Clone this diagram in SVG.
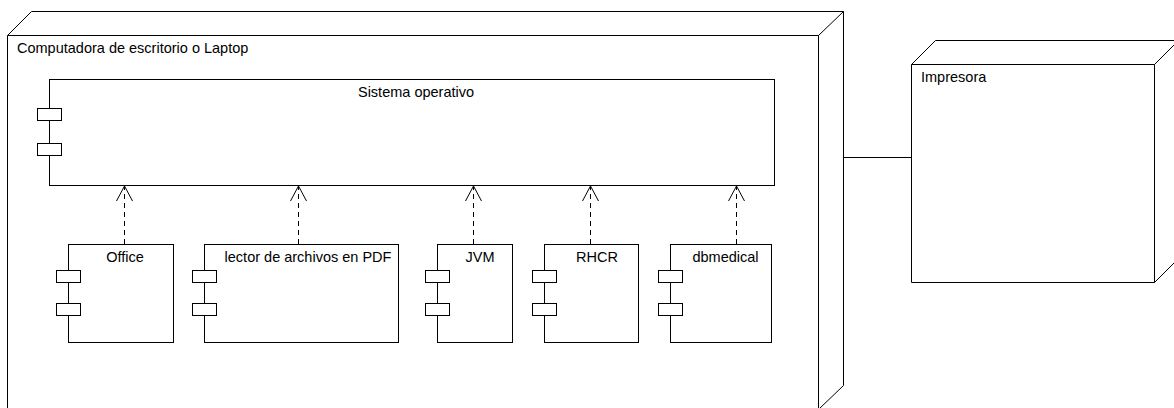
<svg xmlns="http://www.w3.org/2000/svg" width="1174" height="408" viewBox="0 0 1174 408">
<style>
.ln{fill:#fff;stroke:#000;stroke-width:1;}
.face{fill:none;stroke:#000;stroke-width:1;}
.tab{fill:#fff;stroke:#000;stroke-width:1;}
.t{font-family:"Liberation Sans",Arial,sans-serif;font-size:14.5px;fill:#000;}
.c{text-anchor:middle;}
.dep{fill:none;stroke:#000;stroke-width:1;stroke-dasharray:5,4;}
.head{fill:none;stroke:#000;stroke-width:1;}
</style>
<rect width="1174" height="408" fill="#fff"/>
<g id="computadora">
<path class="ln" d="M7.5,35.5 L31.5,11.5 L843.5,11.5 L843.5,385.5 L818.5,409.5 L7.5,409.5 Z"/>
<path class="face" d="M7.5,35.5 L818.5,35.5 L843.5,11.5 M818.5,35.5 L818.5,409.5"/>
<text class="t" x="17" y="53">Computadora de escritorio o Laptop</text>
</g>
<g id="impresora">
<path class="ln" d="M911.5,64.5 L935.5,40.5 L1178.5,40.5 L1178.5,258.5 L1154.5,282.5 L911.5,282.5 Z"/>
<path class="face" d="M911.5,64.5 L1154.5,64.5 L1178.5,40.5 M1154.5,64.5 L1154.5,282.5"/>
<text class="t" x="921" y="82">Impresora</text>
</g>
<g id="sistema-operativo">
<rect class="ln" x="49.5" y="79.5" width="725" height="106"/>
<rect class="tab" x="37.5" y="108.5" width="24" height="12"/>
<rect class="tab" x="37.5" y="143.5" width="24" height="12"/>
<text class="t c" x="416" y="97">Sistema operativo</text>
</g>
<g id="office">
<rect class="ln" x="68.5" y="244.5" width="105" height="98"/>
<rect class="tab" x="56.5" y="270.5" width="24" height="12"/>
<rect class="tab" x="56.5" y="303.5" width="24" height="12"/>
<text class="t c" x="125" y="262">Office</text>
</g>
<g id="lector-pdf">
<rect class="ln" x="204.5" y="244.5" width="194" height="98"/>
<rect class="tab" x="192.5" y="270.5" width="24" height="12"/>
<rect class="tab" x="192.5" y="303.5" width="24" height="12"/>
<text class="t c" x="308" y="262">lector de archivos en PDF</text>
</g>
<g id="jvm">
<rect class="ln" x="437.5" y="244.5" width="75" height="98"/>
<rect class="tab" x="425.5" y="270.5" width="24" height="12"/>
<rect class="tab" x="425.5" y="303.5" width="24" height="12"/>
<text class="t c" x="480" y="262">JVM</text>
</g>
<g id="rhcr">
<rect class="ln" x="544.5" y="244.5" width="94" height="98"/>
<rect class="tab" x="532.5" y="270.5" width="24" height="12"/>
<rect class="tab" x="532.5" y="303.5" width="24" height="12"/>
<text class="t c" x="597" y="262">RHCR</text>
</g>
<g id="dbmedical">
<rect class="ln" x="670.5" y="244.5" width="101" height="98"/>
<rect class="tab" x="658.5" y="270.5" width="24" height="12"/>
<rect class="tab" x="658.5" y="303.5" width="24" height="12"/>
<text class="t c" x="725.5" y="262">dbmedical</text>
</g>
<g id="connectors">
<line class="face" x1="843.5" y1="157.5" x2="911.5" y2="157.5"/>
<line class="dep" x1="124.5" y1="244" x2="124.5" y2="187"/>
<path class="head" d="M116.5,201 L124.5,186 L132.5,201"/>
<line class="dep" x1="298.5" y1="244" x2="298.5" y2="187"/>
<path class="head" d="M290.5,201 L298.5,186 L306.5,201"/>
<line class="dep" x1="473.5" y1="244" x2="473.5" y2="187"/>
<path class="head" d="M465.5,201 L473.5,186 L481.5,201"/>
<line class="dep" x1="590.5" y1="244" x2="590.5" y2="187"/>
<path class="head" d="M582.5,201 L590.5,186 L598.5,201"/>
<line class="dep" x1="736.5" y1="244" x2="736.5" y2="187"/>
<path class="head" d="M728.5,201 L736.5,186 L744.5,201"/>
</g>
</svg>
